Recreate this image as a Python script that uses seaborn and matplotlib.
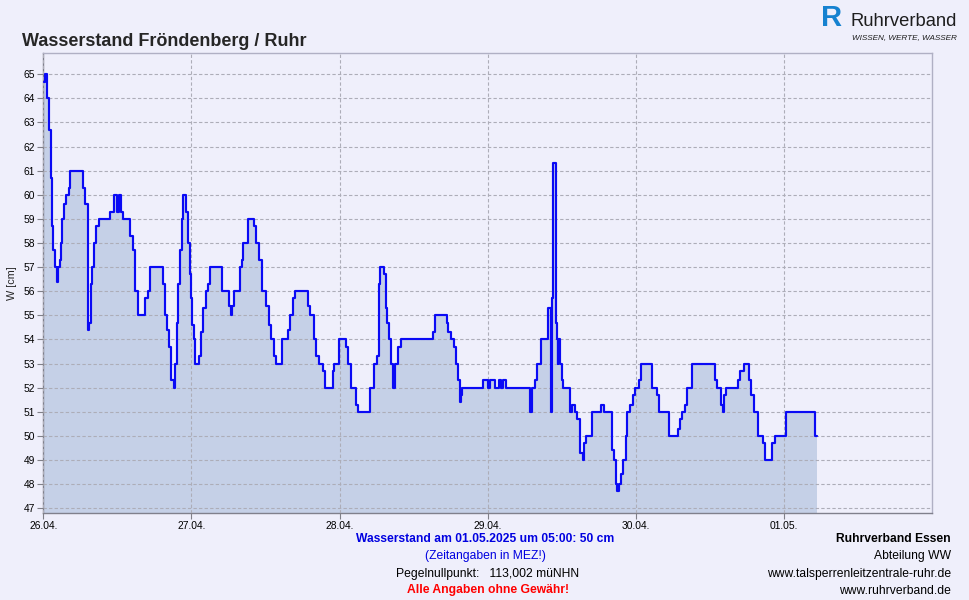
import numpy as np
import pandas as pd
import matplotlib
matplotlib.use('Agg')
import matplotlib.pyplot as plt
import seaborn as sns

# ---------------- data (hours since 26.04.2025 00:00, level in cm, step-post) -------------
hours_d1 = [0.1, 0.2, 0.6, 0.9, 1.2, 1.4, 1.65, 1.9, 2.2, 2.4, 2.65, 2.8, 3.1, 3.3, 3.6,
            4.1, 4.4, 6.45, 6.8, 7.2, 7.45, 7.7, 7.85, 8.2, 8.6, 9.05, 10.85, 11.5, 11.95,
            12.25, 12.55, 12.85, 14.1, 14.45, 14.8, 15.3, 16.5, 16.9, 17.35, 19.35, 19.7,
            20.1, 20.4, 20.75, 21.1, 21.4, 21.6, 21.85, 22.1, 22.4, 22.6, 23.1, 23.45,
            23.7, 23.9]
level_d1 = [64.7, 65, 64, 62.7, 60.7, 58.7, 57.7, 57, 56.4, 57, 57.3, 58, 59, 59.6, 60,
            60.3, 61, 60.3, 59.6, 54.4, 54.7, 56.3, 57, 58, 58.7, 59, 59.3, 60, 59.3,
            60, 59.3, 59, 58.3, 57.7, 56, 55, 55.7, 56, 57, 56.3, 55,
            54.4, 53.7, 52.3, 52, 53, 54.7, 56.3, 57.7, 59, 60, 59.3, 58,
            56.7, 55.7]

hours_d2 = [24.1, 24.35, 24.5, 25.3, 25.6, 25.9, 26.3, 26.6, 27.0, 29.0, 30.0, 30.4,
            30.55, 30.9, 31.9, 32.2, 32.4, 33.1, 34.05, 34.4, 35.0, 35.4, 36.05, 36.5,
            36.9, 37.4, 37.7, 38.6, 39.6, 39.9, 40.4, 40.7, 42.8, 43.2, 43.8, 44.2,
            44.6, 45.3, 45.7, 46.9, 47.1, 47.9]
level_d2 = [54.6, 54, 53, 53.3, 54.3, 55.3, 56, 56.3, 57, 56, 55.4, 55,
            55.4, 56, 57, 57.3, 58, 59, 58.7, 58, 57.3, 56, 55.4, 54.6,
            54, 53.3, 53, 54, 54.4, 55, 55.7, 56, 55.4, 55, 54, 53.3,
            53, 52.7, 52, 52.7, 53, 54]

hours_d3 = [49.1, 49.4, 49.8, 50.6, 50.9, 52.9, 53.6, 54.0, 54.4, 54.5, 55.2, 55.5,
            55.7, 56.0, 56.3, 56.7, 56.9, 57.5, 57.9, 63.2, 63.5, 65.35, 65.6, 66.0,
            66.5, 66.9, 67.2, 67.5, 67.65, 67.9, 71.3]
level_d3 = [53.7, 53, 52, 51.3, 51, 52, 53, 53.3, 56.3, 57, 56.7, 55.3,
            54.7, 54, 53, 52, 53, 53.7, 54, 54.3, 55, 54.7, 54.3, 54,
            53.7, 53, 52.3, 51.4, 51.7, 52, 52.3]

hours_d4 = [72.1, 72.4, 73.1, 73.8, 74.1, 74.5, 74.9, 78.8, 79.1, 79.6, 79.9, 80.6,
            81.8, 82.2, 82.35, 82.55, 83.0, 83.2, 83.3, 83.45, 83.7, 84.0, 84.2, 85.3,
            85.7, 86.1, 86.5, 86.9, 87.4, 87.6, 87.9, 88.8, 90.4, 90.9, 92.05, 92.4,
            92.75, 93.0, 93.3, 93.6, 93.9, 94.4, 94.6, 95.0, 95.5, 95.8]
level_d4 = [52, 52.3, 52, 52.3, 52, 52.3, 52, 51, 52, 52.3, 53, 54,
            55.3, 51, 55.7, 61.3, 54.7, 54, 53, 54, 53, 52.3, 52, 51,
            51.3, 51, 50.7, 49.3, 49, 49.7, 50, 51, 51.3, 51, 49.4, 49,
            48, 47.7, 48, 48.4, 49, 50, 51, 51.3, 51.7, 52]

hours_d5 = [96.5, 96.85, 98.6, 99.4, 99.8, 101.35, 102.8, 103.1, 103.5, 103.9, 104.3,
            105.1, 108.75, 109.1, 109.8, 110.1, 110.3, 110.6, 112.5, 112.8, 113.5,
            114.3, 114.7, 115.1, 115.8, 116.6, 116.9, 118.1, 118.5, 120.3, 124.95, 125.25]
level_d5 = [52.3, 53, 52, 51.7, 51, 50, 50.3, 50.7, 51, 51.3, 52,
            53, 52.3, 52, 51.3, 51, 51.7, 52, 52.3, 52.7, 53,
            52.3, 51.7, 51, 50, 49.7, 49, 49.7, 50, 51, 50, 50]

y_ticks = list(range(47, 66))
x_tick_labels = ['26.04.', '27.04.', '28.04.', '29.04.', '30.04.', '01.05.']

title = 'Wasserstand Fröndenberg / Ruhr'
y_label = 'W [cm]'

# ---------------- build frame -------------
hours = hours_d1 + hours_d2 + hours_d3 + hours_d4 + hours_d5
levels = level_d1 + level_d2 + level_d3 + level_d4 + level_d5
assert len(hours) == len(levels)
start = pd.Timestamp('2025-04-26 00:00')
df = pd.DataFrame({'time': start + pd.to_timedelta(hours, unit='h'), 'level': levels})

sns.set_style('white')
plt.rcParams['font.family'] = ['Liberation Sans', 'DejaVu Sans']

BG = '#EFEFFB'
FILL = '#C5D0E7'
LINE = '#0A0AF5'
W, H = 970, 600

fig = plt.figure(figsize=(9.7, 6.0), dpi=100, facecolor=BG)
ax = fig.add_axes([43.3 / W, 1 - 513.3 / H, (932.3 - 43.3) / W, (513.3 - 53.3) / H])
ax.set_facecolor(BG)

ymin, ymax = 46.79, 65.87
ax.fill_between(df['time'], df['level'], ymin, step='post', color=FILL, lw=0, zorder=1)
sns.lineplot(data=df, x='time', y='level', drawstyle='steps-post', color=LINE,
             lw=1.55, estimator=None, ax=ax, zorder=3)

ax.set_xlim(start, start + pd.Timedelta(days=6))
ax.set_ylim(ymin, ymax)
ax.set_yticks(y_ticks)
ax.set_yticklabels([str(t) for t in y_ticks])
xt = [start + pd.Timedelta(days=i) for i in range(len(x_tick_labels))]
ax.set_xticks(xt)
ax.set_xticklabels(x_tick_labels)

ax.set_axisbelow(False)
ax.grid(True, ls=(0, (3, 2)), color='#ADADB8', lw=0.8)
ax.tick_params(axis='both', bottom=True, left=True, length=4, width=0.8, color='#808088',
               labelsize=7.4, direction='out', labelcolor='black')
ax.tick_params(axis='x', pad=1.5)
ax.tick_params(axis='y', pad=2)
for s in ['left', 'bottom']:
    ax.spines[s].set_color('#80808C')
    ax.spines[s].set_linewidth(1.0)
for s in ['top', 'right']:
    ax.spines[s].set_color('#B0B0C4')
    ax.spines[s].set_linewidth(1.0)

ax.set_xlabel('')
ax.set_ylabel(y_label, fontsize=7.8)
ax.yaxis.set_label_coords((17.5 - 43.3) / (932.3 - 43.3), 0.5)

def ftext(x, y, s, **kw):
    fig.text(x / W, 1 - y / H, s, **kw)

ftext(22, 41, title, fontsize=13, fontweight='bold', ha='left', va='center')

# logo
ftext(832, 18, 'R', fontsize=21, fontweight='bold', color='#1682D0', ha='center', va='center')
ftext(957, 21, 'Ruhrverband', fontsize=13.2, color='#1E1E1E', ha='right', va='center')
ftext(957, 37.5, 'WISSEN, WERTE, WASSER', fontsize=5.9, style='italic', color='#1E1E1E',
      ha='right', va='center')

# bottom texts
ftext(485, 539.5, 'Wasserstand am 01.05.2025 um 05:00: 50 cm', fontsize=8.7,
      fontweight='bold', color='#0000E0', ha='center', va='center')
ftext(485, 556.5, '(Zeitangaben in MEZ!)', fontsize=8.7, color='#0000E0', ha='center', va='center')
ftext(488, 573.5, 'Pegelnullpunkt:   113,002 müNHN', fontsize=8.7, color='black',
      ha='center', va='center')
ftext(488, 590.5, 'Alle Angaben ohne Gewähr!', fontsize=8.7, fontweight='bold', color='#FF0000',
      ha='center', va='center')

ftext(951, 539.5, 'Ruhrverband Essen', fontsize=8.7, fontweight='bold', color='black',
      ha='right', va='center')
ftext(951, 556.5, 'Abteilung WW', fontsize=8.7, color='black', ha='right', va='center')
ftext(951, 573.5, 'www.talsperrenleitzentrale-ruhr.de', fontsize=8.7, color='black',
      ha='right', va='center')
ftext(951, 590.5, 'www.ruhrverband.de', fontsize=8.7, color='black', ha='right', va='center')

fig.savefig('out.png', dpi=100, facecolor=BG)
